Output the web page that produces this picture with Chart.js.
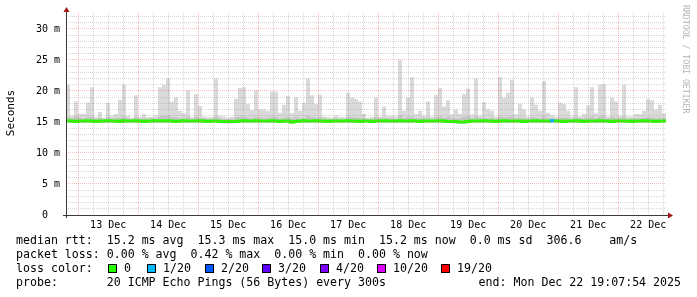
<!DOCTYPE html>
<html>
<head>
<meta charset="utf-8">
<script src="https://cdn.jsdelivr.net/npm/chart.js@4.4.1/dist/chart.umd.min.js"></script>
<style>
  html, body { margin: 0; padding: 0; background: #ffffff; }
  canvas { display: block; }
</style>
</head>
<body>
<canvas id="c" width="697" height="297"></canvas>
<script>
// ---------------- data ----------------
const endTimeText = 'Mon Dec 22 19:07:54 2025';
const spanHours = 240;            // 10 days shown
const firstMidnightHours = 4.8683; // 13 Dec 00:00 relative to the left edge (Dec 12 19:07:54)
const binHours = 1.6;
const dayLabels = ['13 Dec','14 Dec','15 Dec','16 Dec','17 Dec','18 Dec','19 Dec','20 Dec','21 Dec','22 Dec'];
const yTickValues = [0, 5, 10, 15, 20, 25, 30];
const yTickLabels = ['0  ', '5 m', '10 m', '15 m', '20 m', '25 m', '30 m'];
const yMax = 32.58;

// smoke: highest ping per time bin (ms)
const smokeMax = [
  21,16,18.3,16.3,16.3,18.1,20.6,15.8,16.6,15.7,18.1,16,16.3,18.6,21,16,15.7,19.3,15.8,16.3,15.8,15.8,16,20.6,21,
  22,18.3,19,16.8,16.4,20.1,15.8,19.5,17.6,15.9,15.8,15.8,22,16,15.9,15.7,15.8,18.7,20.5,20.6,17.9,16.9,20.1,17,17,
  16.8,19.9,19.9,16.5,17.8,19.2,16.4,19,16.8,18.1,22,19.3,17.9,19.4,15.9,15.8,15.7,16,15.8,15.8,19.7,18.9,18.7,18.3,16.3,
  15.7,15.8,19,15.9,17.5,16,16,15.9,25,16.8,19,22.2,16.3,16.8,16,18.3,15.9,19.4,20.5,17.5,18.5,16.2,17,16.3,19.5,
  20.4,16.2,22,16,18.2,17,16.8,15.9,22.2,18.9,19.7,21.8,16.2,17.9,17,15.9,18.9,17.8,16.8,21.6,16.5,16.1,15.9,18.1,17.9,
  16.8,15.9,20.6,15.9,16.3,17.7,20.6,16.4,21,21.1,15.9,18.9,18.3,16,21,15.9,15.9,16.3,16.3,16.8,18.7,18.5,17,17.8,16.4
];
// smoke: upper edge of the dense inner band (ms)
const smokeInner = [
  15.8,15.6,15.9,15.7,15.6,15.8,15.9,15.5,15.7,15.5,15.8,15.6,15.6,15.7,15.9,15.6,15.5,15.8,15.5,15.6,15.5,15.6,15.6,15.9,16.0,
  16.0,15.8,15.8,15.6,15.6,15.9,15.5,15.8,15.7,15.6,15.5,15.5,15.9,15.6,15.5,15.5,15.5,15.8,15.9,15.9,15.7,15.6,15.8,15.7,15.6,
  15.7,15.8,15.8,15.6,15.7,15.8,15.6,15.8,15.6,15.7,16.0,15.8,15.7,15.8,15.6,15.5,15.5,15.6,15.5,15.5,15.8,15.8,15.7,15.7,15.6,
  15.5,15.5,15.8,15.6,15.7,15.6,15.6,15.5,16.1,15.7,15.8,15.9,15.6,15.7,15.6,15.7,15.5,15.8,15.9,15.7,15.8,15.6,15.6,15.6,15.8,
  15.9,15.6,15.9,15.6,15.7,15.6,15.7,15.5,15.9,15.8,15.8,15.9,15.6,15.7,15.6,15.5,15.8,15.7,15.6,15.9,15.6,15.6,15.5,15.7,15.7,
  15.7,15.5,15.8,15.6,15.6,15.7,15.9,15.6,15.9,15.9,15.5,15.8,15.7,15.6,15.9,15.5,15.6,15.6,15.6,15.7,15.8,15.7,15.6,15.7,15.6
];
// smoke: lowest ping per time bin (ms)
const smokeMin = [
  14.9,14.85,14.9,14.9,14.85,14.9,14.85,14.9,14.9,14.85,14.9,14.9,14.85,14.9,14.85,14.9,14.9,14.85,14.9,14.9,14.85,14.9,14.9,14.85,14.9,
  14.9,14.85,14.85,14.9,14.9,14.85,14.9,14.9,14.85,14.9,14.85,14.9,14.9,14.85,14.8,14.8,14.8,14.85,14.9,14.9,14.85,14.9,14.9,14.85,14.9,
  14.85,14.9,14.9,14.85,14.9,14.85,14.75,14.85,14.9,14.9,14.85,14.9,14.9,14.85,14.9,14.85,14.9,14.9,14.85,14.9,14.9,14.85,14.9,14.85,14.9,
  14.9,14.85,14.9,14.9,14.85,14.9,14.9,14.85,14.9,14.9,14.85,14.9,14.9,14.85,14.9,14.9,14.85,14.9,14.9,14.85,14.85,14.85,14.8,14.7,14.7,
  14.85,14.9,14.9,14.85,14.9,14.9,14.85,14.85,14.9,14.9,14.85,14.9,14.9,14.85,14.85,14.9,14.9,14.85,14.9,14.9,14.85,14.9,14.9,14.85,14.85,
  14.9,14.9,14.85,14.9,14.85,14.9,14.9,14.85,14.9,14.9,14.85,14.85,14.9,14.9,14.85,14.9,14.85,14.9,14.9,14.85,14.9,14.9,14.85,14.9,14.9
];
// median rtt per time bin (ms)
const medianRtt = [
  15.2,15.15,15.1,15.15,15.15,15.2,15.15,15.1,15.15,15.15,15.2,15.15,15.15,15.1,15.2,15.15,15.15,15.2,15.15,15.1,15.15,15.15,15.2,15.2,15.15,
  15.2,15.15,15.1,15.15,15.2,15.15,15.15,15.15,15.2,15.15,15.1,15.15,15.15,15.1,15.1,15.1,15.1,15.1,15.15,15.2,15.15,15.15,15.2,15.15,15.15,
  15.15,15.2,15.15,15.1,15.15,15.15,15.0,15.1,15.15,15.2,15.15,15.15,15.2,15.15,15.15,15.1,15.15,15.15,15.15,15.15,15.2,15.15,15.15,15.1,15.15,
  15.15,15.1,15.15,15.15,15.2,15.15,15.15,15.15,15.2,15.15,15.15,15.2,15.15,15.1,15.15,15.15,15.15,15.15,15.2,15.15,15.1,15.1,15.1,15.0,15.0,
  15.1,15.15,15.15,15.15,15.2,15.15,15.15,15.1,15.15,15.2,15.15,15.15,15.15,15.15,15.1,15.15,15.15,15.2,15.15,15.15,15.15,15.2,15.15,15.15,15.1,
  15.15,15.15,15.2,15.15,15.1,15.15,15.15,15.15,15.2,15.15,15.15,15.1,15.15,15.15,15.15,15.15,15.1,15.15,15.15,15.2,15.15,15.15,15.1,15.15,15.15
];
// lost pings (of 20) per time bin
const lostPings = [
  0,0,0,0,0,0,0,0,0,0,0,0,0,0,0,0,0,0,0,0,0,0,0,0,0,
  0,0,0,0,0,0,0,0,0,0,0,0,0,0,0,0,0,0,0,0,0,0,0,0,0,
  0,0,0,0,0,0,0,0,0,0,0,0,0,0,0,0,0,0,0,0,0,0,0,0,0,
  0,0,0,0,0,0,0,0,0,0,0,0,0,0,0,0,0,0,0,0,0,0,0,0,0,
  0,0,0,0,0,0,0,0,0,0,0,0,0,0,0,0,0,0,0,0,0,1,0,0,0,
  0,0,0,0,0,0,0,0,0,0,0,0,0,0,0,0,0,0,0,0,0,0,0,0,0
];
const lossLevels = [0, 1, 2, 3, 4, 10, 19];
const lossLevelLabels = ['0', '1/20', '2/20', '3/20', '4/20', '10/20', '19/20'];
const lossColors = ['#26ff00', '#00b8ff', '#0059ff', '#5e00ff', '#7e00ff', '#dd00ff', '#ff0000'];

const rttStats = [15.2, 15.3, 15.0, 15.2, 0.0, 306.6];   // avg max min now sd am/s
const lossStats = [0.00, 0.42, 0.00, 0.00];              // avg max min now
const probeText = '20 ICMP Echo Pings (56 Bytes) every 300s';

// ---------------- helpers ----------------
function toPoints(arr) {
  const pts = arr.map((v, i) => ({ x: i * binHours, y: v }));
  pts.push({ x: spanHours, y: arr[arr.length - 1] });
  return pts;
}
function lossColorFor(n) {
  let c = lossColors[0];
  for (let k = 0; k < lossLevels.length; k++) if (n >= lossLevels[k]) c = lossColors[k];
  return c;
}
const none = 'rgba(0,0,0,0)';
const MONO = '"DejaVu Sans Mono", "Liberation Mono", monospace';

// ---------------- decorations plugin ----------------
const deco = {
  id: 'deco',
  afterDatasetsDraw(chart) {
    const { ctx, chartArea: a, scales } = chart;
    const xs = scales.x, ys = scales.y;
    ctx.save();
    ctx.lineWidth = 1;
    ctx.setLineDash([1, 1]);
    const minorC = 'rgba(130,130,130,0.32)';
    const majorC = 'rgba(255,70,70,0.38)';
    // horizontal grid
    for (let v = 1; v <= Math.floor(yMax); v++) {
      const py = Math.floor(ys.getPixelForValue(v)) + 0.5;
      ctx.strokeStyle = (v % 5 === 0) ? majorC : minorC;
      ctx.beginPath(); ctx.moveTo(a.left, py); ctx.lineTo(a.right, py); ctx.stroke();
    }
    // vertical grid (6 h minor, daily major)
    for (let k = 0; ; k++) {
      const h = firstMidnightHours + 6 * k;
      if (h > spanHours) break;
      const px = Math.floor(xs.getPixelForValue(h)) + 0.5;
      ctx.strokeStyle = (k % 4 === 0) ? majorC : minorC;
      ctx.beginPath(); ctx.moveTo(px, a.top); ctx.lineTo(px, a.bottom); ctx.stroke();
    }
    ctx.setLineDash([]);

    // axes
    const x0 = Math.floor(xs.getPixelForValue(0));
    const y0 = Math.floor(ys.getPixelForValue(0));
    ctx.fillStyle = '#3a3a3a';
    ctx.fillRect(x0 - 3, y0, a.right - x0 + 6, 1);
    ctx.fillRect(x0, a.top - 3, 1, y0 - a.top + 6);
    // arrows
    ctx.fillStyle = '#a01414';
    ctx.beginPath();
    ctx.moveTo(x0 - 2.5, a.top - 1); ctx.lineTo(x0 + 3.5, a.top - 1); ctx.lineTo(x0 + 0.5, a.top - 6);
    ctx.closePath(); ctx.fill();
    ctx.beginPath();
    ctx.moveTo(a.right + 2, y0 - 2.5); ctx.lineTo(a.right + 2, y0 + 3.5); ctx.lineTo(a.right + 7, y0 + 0.5);
    ctx.closePath(); ctx.fill();

    // y tick labels
    ctx.fillStyle = '#000';
    ctx.font = '10px ' + MONO;
    ctx.textAlign = 'right';
    ctx.textBaseline = 'middle';
    yTickValues.forEach((v, i) => {
      ctx.fillText(yTickLabels[i], x0 - 6, ys.getPixelForValue(v) + 0.5);
    });
    // x tick labels (at noon)
    ctx.textAlign = 'center';
    dayLabels.forEach((lab, i) => {
      const h = firstMidnightHours + 12 + 24 * i;
      ctx.fillText(lab, xs.getPixelForValue(h), y0 + 10.5);
    });

    // y title
    ctx.save();
    ctx.translate(11, 113);
    ctx.rotate(-Math.PI / 2);
    ctx.font = '11px ' + MONO;
    ctx.textAlign = 'center';
    ctx.fillText('Seconds', 0, 0);
    ctx.restore();

    // watermark
    ctx.save();
    ctx.translate(685, 5);
    ctx.rotate(Math.PI / 2);
    ctx.font = '8.2px ' + MONO;
    ctx.fillStyle = '#b4b4b4';
    ctx.textAlign = 'left';
    ctx.textBaseline = 'middle';
    ctx.fillText('RRDTOOL / TOBI OETIKER', 0, 0);
    ctx.restore();

    // legend
    ctx.font = '11.6px ' + MONO;
    ctx.textAlign = 'left';
    ctx.textBaseline = 'middle';
    ctx.fillStyle = '#000';
    const L = 16;
    const r = rttStats;
    const l1 = 'median rtt:  ' + r[0].toFixed(1) + ' ms avg  ' + r[1].toFixed(1) + ' ms max  ' +
      r[2].toFixed(1) + ' ms min  ' + r[3].toFixed(1) + ' ms now  ' + r[4].toFixed(1) + ' ms sd  ' +
      r[5].toFixed(1) + '    am/s';
    const s = lossStats;
    const l2 = 'packet loss: ' + s[0].toFixed(2) + ' % avg  ' + s[1].toFixed(2) + ' % max  ' +
      s[2].toFixed(2) + ' % min  ' + s[3].toFixed(2) + ' % now';
    ctx.fillText(l1, L, 241);
    ctx.fillText(l2, L, 255);
    ctx.fillText('loss color:', L, 269);
    const boxX = [108, 147, 205, 262, 320, 377, 441];
    lossLevelLabels.forEach((lab, i) => {
      ctx.fillStyle = lossColors[i];
      ctx.fillRect(boxX[i], 264, 9, 9);
      ctx.strokeStyle = '#000';
      ctx.lineWidth = 1;
      ctx.strokeRect(boxX[i] + 0.5, 264.5, 8, 8);
      ctx.fillStyle = '#000';
      ctx.fillText(lab, boxX[i] + 16, 269);
    });
    ctx.fillText('probe:       ' + probeText, L, 283);
    ctx.textAlign = 'right';
    ctx.fillText('end: ' + endTimeText, 681, 283);
    ctx.restore();
  }
};

// ---------------- chart ----------------
new Chart(document.getElementById('c'), {
  type: 'line',
  data: {
    datasets: [
      { label: 'min', data: toPoints(smokeMin), order: 3, stepped: true,
        borderColor: none, backgroundColor: none, pointRadius: 0, fill: false },
      { label: 'smoke', data: toPoints(smokeMax), order: 2, stepped: true,
        borderColor: none, backgroundColor: '#dadada', pointRadius: 0, fill: 0 },
      { label: 'inner', data: toPoints(smokeInner), order: 1, stepped: true,
        borderColor: none, backgroundColor: '#c4c4c4', pointRadius: 0, fill: 0 },
      { label: 'median', data: toPoints(medianRtt), order: 0, stepped: true,
        borderColor: lossColors[0], borderWidth: 3, pointRadius: 0, fill: false,
        borderCapStyle: 'butt',
        segment: { borderColor: c => lossColorFor(lostPings[Math.min(c.p0DataIndex, lostPings.length - 1)]) } }
    ]
  },
  options: {
    responsive: false,
    animation: false,
    events: [],
    layout: { padding: { left: 66, right: 31, top: 13, bottom: 82 } },
    scales: {
      x: { type: 'linear', min: 0, max: spanHours, display: false },
      y: { type: 'linear', min: 0, max: yMax, display: false }
    },
    plugins: { legend: { display: false }, tooltip: { enabled: false } }
  },
  plugins: [deco]
});
</script>
</body>
</html>
